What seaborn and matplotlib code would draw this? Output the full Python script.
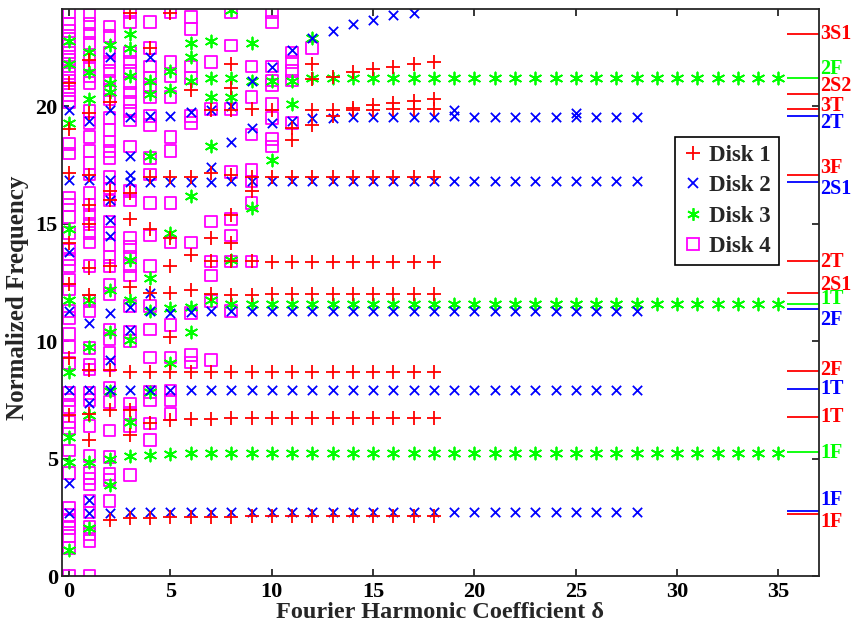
import pandas as pd
import matplotlib
matplotlib.use("Agg")
import matplotlib.pyplot as plt
import matplotlib.transforms as mtransforms
from matplotlib.lines import Line2D
import seaborn as sns

# Frequencies per harmonic coefficient delta (index = delta)
disk1 = [
    [6.85, 9.3, 12.45, 14.2, 17.15, 19.06, 21.0],
    [5.8, 6.9, 8.77, 11.96, 13.1, 15.0, 15.8, 17.06, 19.7, 21.96],
    [2.38, 7.06, 8.77, 13.2, 16.0, 16.4, 20.17],
    [2.45, 6.0, 7.06, 8.7, 12.3, 15.2, 16.3, 23.96],
    [2.47, 6.5, 8.7, 12.04, 14.8, 17.0, 22.5],
    [2.5, 6.64, 8.7, 10.2, 12.04, 13.2, 14.4, 17.0, 23.96],
    [2.52, 6.7, 8.7, 12.17, 13.66, 17.0, 20.7],
    [2.52, 6.7, 8.7, 12.0, 13.4, 14.4, 17.15, 19.83],
    [2.53, 6.72, 8.7, 11.96, 13.4, 14.2, 15.36, 17.1, 19.83, 20.8, 21.8],
    [2.54, 6.72, 8.7, 11.98, 13.4, 16.4, 17.0, 19.9],
    [2.55, 6.73, 8.7, 12.0, 13.38, 17.0, 19.83],
    [2.55, 6.73, 8.7, 12.02, 13.38, 17.0, 18.55, 19.1],
    [2.55, 6.74, 8.7, 12.02, 13.38, 17.0, 19.2, 19.83, 21.15, 21.8],
    [2.55, 6.74, 8.7, 12.02, 13.38, 17.0, 19.6, 19.85, 21.25],
    [2.55, 6.74, 8.7, 12.02, 13.38, 17.0, 19.85, 19.95, 21.45],
    [2.55, 6.74, 8.7, 12.02, 13.38, 17.0, 19.86, 20.05, 21.6],
    [2.55, 6.74, 8.7, 12.02, 13.38, 17.0, 19.87, 20.15, 21.7],
    [2.55, 6.74, 8.7, 12.02, 13.38, 17.0, 19.87, 20.25, 21.8],
    [2.55, 6.74, 8.7, 12.02, 13.38, 17.0, 19.88, 20.3, 21.9],
]

disk2 = [
    [2.7, 3.96, 7.93, 11.3, 13.8, 16.85, 19.83],
    [2.68, 3.23, 7.36, 7.93, 10.77, 16.85, 19.4],
    [2.7, 7.93, 9.2, 11.2, 14.5, 15.15, 16.0, 16.85, 19.83, 22.1],
    [2.72, 7.93, 10.47, 11.45, 16.8, 17.1, 17.9, 19.55],
    [2.72, 7.93, 11.3, 12.04, 16.8, 19.6, 22.1],
    [2.72, 7.93, 11.2, 16.8, 19.6],
    [2.72, 7.93, 11.25, 16.8, 19.75],
    [2.72, 7.93, 11.28, 16.8, 17.4, 19.83],
    [2.72, 7.93, 11.3, 16.82, 18.5, 20.0],
    [2.72, 7.93, 11.3, 16.82, 19.1, 21.1],
    [2.72, 7.93, 11.3, 16.82, 19.3, 21.7],
    [2.72, 7.93, 11.3, 16.82, 19.4, 22.4],
    [2.72, 7.93, 11.3, 16.82, 19.5, 22.9],
    [2.72, 7.93, 11.3, 16.82, 19.5, 23.2],
    [2.72, 7.93, 11.3, 16.82, 19.55, 23.5],
    [2.72, 7.93, 11.3, 16.82, 19.55, 23.7],
    [2.72, 7.93, 11.3, 16.82, 19.55, 23.9],
    [2.72, 7.93, 11.3, 16.82, 19.55, 24.0],
    [2.72, 7.93, 11.3, 16.82, 19.55],
    [2.72, 7.93, 11.3, 16.82, 19.6, 19.83],
    [2.72, 7.93, 11.3, 16.82, 19.55],
    [2.72, 7.93, 11.3, 16.82, 19.55],
    [2.72, 7.93, 11.3, 16.82, 19.55],
    [2.72, 7.93, 11.3, 16.82, 19.55],
    [2.72, 7.93, 11.3, 16.82, 19.55],
    [2.72, 7.93, 11.3, 16.82, 19.55, 19.7],
    [2.72, 7.93, 11.3, 16.82, 19.55],
    [2.72, 7.93, 11.3, 16.82, 19.55],
    [2.72, 7.93, 11.3, 16.82, 19.55],
]

disk3 = [
    [1.1, 4.85, 5.9, 8.68, 11.74, 14.8, 19.3, 21.8, 22.8],
    [2.04, 4.85, 6.85, 9.74, 11.74, 20.3, 21.45, 22.3],
    [3.87, 5.0, 7.9, 10.38, 12.17, 20.6, 21.0, 22.6],
    [5.1, 6.55, 10.04, 11.75, 13.45, 21.3, 22.5, 23.1],
    [5.15, 7.85, 11.3, 12.7, 17.9, 20.55, 21.1],
    [5.2, 9.06, 11.4, 14.6, 20.7, 21.5],
    [5.22, 10.38, 11.45, 16.2, 21.1, 22.1, 22.7],
    [5.24, 11.74, 18.3, 20.4, 21.2, 22.8],
    [5.25, 11.6, 13.45, 20.4, 21.2, 24.1],
    [5.25, 11.6, 15.66, 21.1, 22.7],
    [5.25, 11.6, 17.7, 21.1],
    [5.25, 11.6, 20.1, 21.1],
    [5.25, 11.6, 21.2, 22.9],
    [5.25, 11.6, 21.2],
    [5.25, 11.6, 21.2],
    [5.25, 11.6, 21.2],
    [5.25, 11.6, 21.2],
    [5.25, 11.6, 21.2],
    [5.25, 11.6, 21.2],
    [5.25, 11.6, 21.2],
    [5.25, 11.6, 21.2],
    [5.25, 11.6, 21.2],
    [5.25, 11.6, 21.2],
    [5.25, 11.6, 21.2],
    [5.25, 11.6, 21.2],
    [5.25, 11.6, 21.2],
    [5.25, 11.6, 21.2],
    [5.25, 11.6, 21.2],
    [5.25, 11.6, 21.2],
    [5.25, 11.6, 21.2],
    [5.25, 11.6, 21.2],
    [5.25, 11.6, 21.2],
    [5.25, 11.6, 21.2],
    [5.25, 11.6, 21.2],
    [5.25, 11.6, 21.2],
    [5.25, 11.6, 21.2],
]

disk4 = [
    [0.0, 1.2, 1.7, 2.05, 2.35, 2.6, 2.9, 4.4, 5.35, 6.3, 6.55, 7.2, 7.5, 7.8,
     9.06, 9.75, 10.3, 11.0, 11.3, 12.2, 12.6, 13.2, 13.5, 13.9, 14.6, 15.3,
     15.8, 16.1, 18.0, 18.4, 20.2, 20.5, 20.8, 21.1, 21.4, 21.7, 22.0, 22.3,
     22.6, 22.9, 23.2, 23.5, 24.0],
    [0.0, 1.5, 1.8, 2.1, 2.7, 3.2, 3.9, 4.15, 4.4, 5.1, 6.4, 7.5, 7.8, 8.8,
     9.0, 9.7, 11.3, 11.7, 13.2, 14.2, 14.6, 15.0, 15.4, 15.8, 16.3, 17.1,
     17.6, 18.1, 18.7, 19.3, 19.8, 21.0, 21.3, 21.7, 22.1, 22.7, 23.1, 23.5,
     23.9],
    [3.2, 4.1, 4.35, 5.06, 6.2, 7.4, 8.0, 9.0, 9.5, 10.1, 10.5, 12.0, 12.4,
     13.2, 13.6, 14.1, 14.6, 15.1, 16.0, 16.5, 17.0, 17.8, 18.1, 18.5, 19.0,
     19.5, 20.3, 20.7, 21.1, 21.5, 21.9, 22.3, 23.0, 23.4],
    [4.3, 6.4, 6.95, 7.35, 10.0, 10.4, 11.5, 12.8, 13.2, 13.6, 14.0, 14.4,
     16.0, 16.4, 18.3, 19.4, 19.8, 20.2, 20.6, 21.0, 21.5, 21.9, 22.3, 23.6,
     24.0],
    [5.8, 6.5, 7.5, 7.85, 9.3, 10.5, 11.5, 13.2, 14.5, 15.9, 17.1, 17.8, 19.2,
     19.6, 20.4, 20.8, 21.2, 21.7, 22.5, 23.6],
    [6.9, 7.5, 7.9, 9.3, 10.7, 14.2, 15.9, 18.1, 18.7, 20.4, 21.3, 21.9, 24.0],
    [9.1, 9.4, 11.2, 14.2, 19.3, 19.6, 21.2, 21.7, 23.3, 23.8],
    [9.2, 11.7, 12.8, 13.4, 15.1, 19.9, 21.9],
    [11.3, 13.4, 14.5, 15.2, 17.2, 19.9, 22.6, 24.0],
    [13.4, 15.9, 16.8, 17.3, 18.8, 20.4, 21.7],
    [18.3, 18.6, 19.5, 20.1, 20.9, 21.1, 21.7, 23.6, 24.0],
    [19.3, 21.1, 21.5, 21.9, 22.3],
    [22.5],
]

# Reference mode frequencies marked on the right edge
ref_labels = ["3S1", "2F", "2S2", "3T", "2T", "3F", "2S1", "2T", "2S1", "1T",
              "2F", "2F", "1T", "1T", "1F", "1F", "1F"]
ref_values = [23.1, 21.2, 20.55, 19.87, 19.6, 17.06, 16.8, 13.4, 12.04, 11.6,
              11.36, 8.72, 7.96, 6.77, 5.28, 2.77, 2.64]
ref_text_y = [23.1, 21.6, 20.85, 20.0, 19.28, 17.36, 16.5, 13.36, 12.4, 11.8,
              10.9, 8.77, 7.96, 6.77, 5.23, 3.23, 2.3]
ref_colors = ["red", "lime", "red", "red", "blue", "red", "blue", "red", "red",
              "lime", "blue", "red", "blue", "red", "lime", "blue", "red"]


def to_frame(freqs):
    rows = [(k, v) for k, vals in enumerate(freqs) for v in vals]
    return pd.DataFrame(rows, columns=["delta", "freq"])


sns.set_style("ticks")
plt.rcParams["font.family"] = ["Liberation Serif", "DejaVu Serif"]
plt.rcParams["font.weight"] = "bold"
plt.rcParams["axes.labelweight"] = "bold"

fig = plt.figure(figsize=(8.58, 6.25), dpi=100)
ax = fig.add_axes([62 / 858, 49 / 625, 757 / 858, 567 / 625])

asterisk = (6, 2, 0)
sns.scatterplot(data=to_frame(disk4), x="delta", y="freq", marker="s", s=70,
                facecolor="none", edgecolor="#ff00ff", linewidth=1.3, ax=ax, legend=False)
sns.scatterplot(data=to_frame(disk3), x="delta", y="freq", marker=asterisk, s=75,
                color="#00ff00", linewidth=1.3, ax=ax, legend=False)
sns.scatterplot(data=to_frame(disk2), x="delta", y="freq", marker="x", s=45,
                color="#0000ff", linewidth=1.3, ax=ax, legend=False)
sns.scatterplot(data=to_frame(disk1), x="delta", y="freq", marker="+", s=95,
                color="#ff0000", linewidth=1.3, ax=ax, legend=False)

# right-edge reference marks
ax.hlines(ref_values, 35.4, 37, colors=ref_colors, linewidth=1.3, clip_on=False)
trans = mtransforms.blended_transform_factory(ax.transAxes, ax.transData)
for lab, ty, c in zip(ref_labels, ref_text_y, ref_colors):
    ax.text(1.002, ty, lab, transform=trans, color=c, fontsize=14.5,
            fontweight="bold", ha="left", va="center")

ax.set_xlim(-0.35, 37)
ax.set_ylim(0, 24.15)
ax.set_xticks(range(0, 36, 5))
ax.set_yticks(range(0, 21, 5))
ax.tick_params(direction="in", length=5, width=1.1, top=True, right=True,
               labelsize=16, colors="black")
ax.tick_params(axis="x", pad=4)
ax.tick_params(axis="y", pad=3)
for sp in ax.spines.values():
    sp.set_visible(True)
    sp.set_linewidth(1.3)
    sp.set_color("#262626")

ax.set_xlabel("Fourier Harmonic Coefficient δ", fontsize=17.5)
ax.set_ylabel("Normalized Frequency", fontsize=18)
ax.xaxis.set_label_coords(0.50, -0.046)
ax.yaxis.set_label_coords(-0.043, 0.49)

handles = [
    Line2D([], [], marker="+", color="#ff0000", ls="none", markersize=10, mew=1.3),
    Line2D([], [], marker="x", color="#0000ff", ls="none", markersize=7, mew=1.3),
    Line2D([], [], marker=asterisk, color="#00ff00", ls="none", markersize=9, mew=1.3),
    Line2D([], [], marker="s", mfc="none", mec="#ff00ff", ls="none", markersize=8, mew=1.3),
]
leg = ax.legend(handles, ["Disk 1", "Disk 2", "Disk 3", "Disk 4"],
                loc="upper right", bbox_to_anchor=(0.947, 0.774), borderaxespad=0,
                fancybox=False, framealpha=1, edgecolor="black",
                prop={"size": 16.5, "weight": "bold"}, handlelength=0.9,
                handletextpad=0.25, borderpad=0.35, labelspacing=0.4)
leg.get_frame().set_linewidth(1.2)

fig.savefig("out.png", dpi=100)
